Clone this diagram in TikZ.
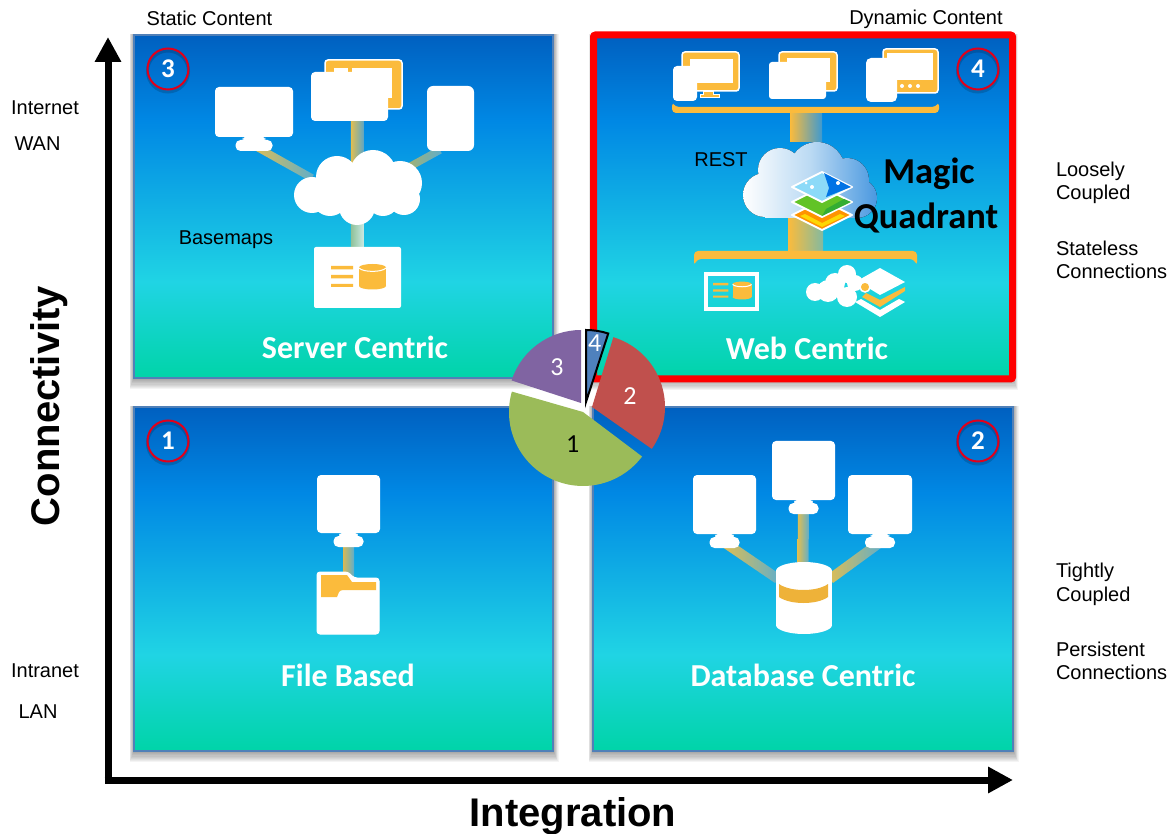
\documentclass[tikz,border=0pt]{standalone}
\usepackage{fontspec}
\setmainfont{Liberation Sans}
\newfontfamily\titlefont{Carlito}
\usetikzlibrary{arrows.meta,positioning,calc}

\definecolor{gold}{HTML}{FBBB3C}
\definecolor{panelA}{HTML}{0060C0}
\definecolor{panelB}{HTML}{0088E4}
\definecolor{panelC}{HTML}{20D4E4}
\definecolor{panelD}{HTML}{00D4A8}
\definecolor{panelline}{HTML}{5080B8}
\definecolor{ringred}{HTML}{E0001B}
\definecolor{framered}{HTML}{FF0000}
\definecolor{slicegreen}{HTML}{9BBB59}
\definecolor{slicered}{HTML}{C0504D}
\definecolor{slicepurple}{HTML}{8064A2}
\definecolor{sliceblue}{HTML}{4F81BD}
\definecolor{barwarm}{HTML}{E2BE50}
\definecolor{barcool}{HTML}{5FAECB}
\definecolor{barsage}{HTML}{8FC098}
\definecolor{barpale}{HTML}{C8E8E0}
\definecolor{barblue}{HTML}{3E9AD0}
\definecolor{cloudmid}{HTML}{BBDAF3}
\definecolor{cloudblue}{HTML}{4A98E0}

\pgfdeclareverticalshading{panelfade}{100bp}{
    color(0bp)=(panelD); color(25bp)=(panelD); color(39bp)=(panelC);
    color(62.5bp)=(panelB); color(75bp)=(panelA); color(100bp)=(panelA)
}

\pgfdeclarelayer{hazes}
\pgfdeclarelayer{panels}
\pgfdeclarelayer{bars}
\pgfsetlayers{hazes,panels,bars,main}

% soft shadow round a panel
\newcommand{\hazefor}[1]{
    \begin{pgfonlayer}{hazes}
    \foreach \r in {1,...,10} {
        \fill[black, opacity=0.042] ([shift={(-\r*0.45,-1)}]#1.north west)
            rectangle ([shift={(\r*0.55,\r*1.1)}]#1.south east);
    }
    \end{pgfonlayer}
}
% stand under a screen node
\newcommand{\standfor}[2]{
    \node (#1_neck) [white_pad, size={#2*0.62}{5}, below=-0.5pt of #1] {};
    \node (#1_base) [white_pad, rounded corners=5pt, size={#2}{11}, below=-1.5pt of #1_neck] {};
}
% shaded bar between two named points
\newcommand{\linkbar}[5]{
    \begin{pgfonlayer}{bars}
    \path let \p1=($(#2)-(#1)$), \n1={veclen(\x1,\y1)} in (#1.center) -- (#2.center)
        node (#1_#2) [midway, sloped, allow upside down, minimum width=\n1, minimum height=#3,
            left color=#4, right color=#5] {};
    \end{pgfonlayer}
}
% list and cylinder glyph
\newcommand{\dbglyph}[3]{
    \begin{scope}[shift={(#1,#2)}, scale=#3]
        \fill[gold] (0,0) rectangle (22,3.5) (0,9) rectangle (22,12.5) (0,18) rectangle (22,21);
        \fill[gold] (41.5,1.5) ellipse [x radius=13.5, y radius=3.5];
        \fill[gold] (28,1.5) rectangle (55,20);
        \fill[gold] (41.5,20) ellipse [x radius=13.5, y radius=3.5];
        \draw[white, line width=1pt] (28,2) .. controls (32,6.5) and (51,6.5) .. (55,2);
    \end{scope}
}
% one leaf of the map stack
\newcommand{\mapleaf}[2]{
    \filldraw[draw=white, line width=2pt, line join=round, fill=#2]
        (792,#1) -- (822,#1-15) -- (852,#1) -- (822,#1+15) -- cycle;
}

\begin{document}
\begin{tikzpicture}[x=1pt, y=-1pt,
    every node/.style={inner sep=0pt, outer sep=0pt},
    size/.style 2 args={minimum width=#1, minimum height=#2},
    quadrant/.style={rectangle, shade, shading=panelfade, draw=panelline, line width=2pt},
    badge/.style={
        circle, draw=ringred, line width=2pt, minimum size=41pt,
        preaction={draw=black, opacity=0.16, line width=3pt, transform canvas={yshift=-2.5pt}},
        text=white, font=\titlefont\bfseries\fontsize{27}{30}\selectfont
    },
    quadtitle/.style={text=white, font=\titlefont\bfseries\fontsize{32}{34}\selectfont},
    magictitle/.style={font=\titlefont\bfseries\fontsize{36.5}{40}\selectfont},
    sidelabel/.style={font=\fontsize{20}{23.5}\selectfont, align=left},
    axistitle/.style={font=\bfseries\fontsize{40}{44}\selectfont},
    white_pad/.style={rectangle, fill=white, rounded corners=4pt},
    gold_pad/.style={rectangle, fill=gold, draw=white, line width=1.5pt, rounded corners=3pt},
    axisline/.style={line width=7pt, -{Triangle[length=25pt, width=25pt]}},
    pienumber/.style={font=\titlefont\fontsize{26}{28}\selectfont}
]
    \useasboundingbox (0,0) rectangle (1171,834);

    \begin{pgfonlayer}{panels}
        \node (panel_server) [quadrant, size={419}{343}] at (343.5,206.5) {};
        \node (panel_file) [quadrant, size={419}{344}] at (343.5,579) {};
        \node (panel_database) [quadrant, size={420}{344}] at (803,579) {};
        \node (panel_web) [quadrant, draw=framered, line width=7pt, rounded corners=2pt,
            size={419}{344}] at (803,207) {};
    \end{pgfonlayer}
    \hazefor{panel_server}
    \hazefor{panel_file}
    \hazefor{panel_database}
    \hazefor{panel_web}

    % axes
    \coordinate (axis_corner) at (108,780);
    \coordinate (axis_top) at (108,37);
    \coordinate (axis_right) at (1013,780);
    \draw[axisline] ([yshift=-3.5pt]axis_corner) -- (axis_top);
    \draw[axisline] ([xshift=-3.5pt]axis_corner) -- (axis_right);
    \node (connectivity) [axistitle, rotate=90] at (49,406) {Connectivity};
    \node (integration) [axistitle] at (573,816) {Integration};

    % labels round the quadrants
    \node (static_content) [sidelabel] at (209.5,18) {Static Content};
    \node (dynamic_content) [sidelabel] at (926,19) {Dynamic Content};
    \node (internet) [sidelabel] at (45,108) {Internet};
    \node (wan) [sidelabel] at (37.5,144) {WAN};
    \node (intranet) [sidelabel] at (45,671) {Intranet};
    \node (lan) [sidelabel] at (38,712) {LAN};
    \node (loosely) [sidelabel, anchor=west] at (1056,183) {Loosely\\Coupled};
    \node (stateless) [sidelabel, anchor=west] at (1056,260) {Stateless\\Connections};
    \node (tightly) [sidelabel, anchor=west] at (1056,584.5) {Tightly\\Coupled};
    \node (persistent) [sidelabel, anchor=west] at (1056,661) {Persistent\\Connections};

    \node (badge_server) [badge] at (168,69) {3};
    \node (badge_web) [badge] at (978,69) {4};
    \node (badge_file) [badge] at (168,441) {1};
    \node (badge_database) [badge] at (978,441) {2};

    \node (title_server) [quadtitle] at (355,347) {Server Centric};
    \node (title_web) [quadtitle] at (807,348) {Web Centric};
    \node (title_file) [quadtitle] at (348,675) {File Based};
    \node (title_database) [quadtitle] at (803,675) {Database Centric};

    % server centric
    \node (s_desktop) [white_pad, size={78}{50}] at (254,112) {};
    \standfor{s_desktop}{37}
    \node (s_back) [gold_pad, size={77}{49}] at (363.5,84.5) {};
    \node (s_inner) [white_pad, rounded corners=0pt, size={40}{30}] at (372,83) {};
    \node (s_tab) [white_pad, rounded corners=0pt, size={14}{6}] at (341,71) {};
    \node (s_tablet) [white_pad, size={77}{49}] at (349.5,96.5) {};
    \node (s_phone) [white_pad, rounded corners=6pt, size={47}{65}] at (450.5,118.5) {};
    \coordinate (s_left) at (312,178);
    \coordinate (s_right) at (400,172);
    \coordinate (s_phone_port) at (440,150);
    \coordinate (s_tablet_port) at (357,121);
    \coordinate (s_hub_top) at (357,165);
    \coordinate (s_hub_low) at (357,220);
    \coordinate (s_box_port) at (357,254);
    \fill[white] (337,177) circle [radius=21] (373,173) circle [radius=23]
        (400,183) circle [radius=22] (404,199) circle [radius=16]
        (383,200) circle [radius=16] (357,207) circle [radius=18]
        (330,198) circle [radius=18] (312,195) circle [radius=18];
    \fill[white] (320,178) rectangle (400,205);
    \linkbar{s_desktop_base}{s_left}{7.5}{barwarm}{barcool}
    \linkbar{s_tablet_port}{s_hub_top}{12.5}{barwarm}{barcool!85!gray}
    \linkbar{s_phone_port}{s_right}{7.5}{barwarm!80!teal}{barcool}
    \linkbar{s_hub_low}{s_box_port}{12.5}{barsage}{barpale}
    \node (s_box) [white_pad, rounded corners=2pt, size={87}{61}] at (357.5,277.5) {};
    \dbglyph{331}{266}{1}
    \node (basemaps) [sidelabel] at (226,240) {Basemaps};

    % web centric
    \node (w_desktop) [gold_pad, size={57}{39}] at (710.5,71.5) {};
    \node (w_desktop_inner) [white_pad, rounded corners=0pt, size={43}{24}] at (711.5,71) {};
    \filldraw[gold, draw=white, line width=1pt] (703,92) -- (713,92) -- (713,95) -- (719,95)
        -- (719,98) -- (700,98) -- (700,95) -- (703,95) -- cycle;
    \node (w_desktop_phone) [white_pad, size={24}{35}] at (685,83.5) {};
    \node (w_middle) [gold_pad, size={58}{39}] at (808,71.5) {};
    \node (w_middle_inner) [white_pad, rounded corners=0pt, size={43}{24}] at (808.5,70) {};
    \node (w_middle_front) [white_pad, rounded corners=3pt, size={57}{37}] at (797.5,80.5) {};
    \node (w_right) [gold_pad, size={55}{44}] at (910.5,71) {};
    \node (w_right_inner) [white_pad, rounded corners=0pt, size={46}{27}] at (910,66.5) {};
    \fill[white] (902,86) circle [radius=2] (910,86) circle [radius=2] (918,86) circle [radius=2];
    \node (w_right_phone) [white_pad, rounded corners=5pt, size={31}{44}] at (881.5,80) {};
    \fill[gold, rounded corners=4pt] (672,102) -- (672,113) -- (939,113) -- (939,102)
        -- (936,107) -- (675,107) -- cycle;
    \fill[gold, rounded corners=4pt] (694,266) -- (694,251) -- (917,251) -- (917,266)
        -- (914,259) -- (697,259) -- cycle;
    \coordinate (w_top) at (806,113);
    \coordinate (w_cloud_top) at (806,142);
    \coordinate (w_cloud_low) at (805.5,218);
    \coordinate (w_low) at (805.5,251);
    \linkbar{w_top}{w_cloud_top}{32}{gold}{barblue}
    \linkbar{w_low}{w_cloud_low}{35}{gold}{barsage!85!barblue}
    \fill[left color=white, right color=cloudblue, middle color=cloudmid]
        (817,170) circle [radius=28] (780,170) circle [radius=22]
        (765,195) circle [radius=22] (847,180) circle [radius=22]
        (857,198) circle [radius=20] (765,218) rectangle (857,190) (780,195) rectangle (847,165);
    \mapleaf{215}{orange!85!yellow}
    \fill[yellow!75!orange] (805,214) -- (822,223) -- (840,214) -- (845,216) -- (822,227) -- (800,216) -- cycle;
    \mapleaf{202}{green!45!olive!85!white}
    \fill[green!60!black!80] (826,209) -- (844,199) -- (851,202) -- (822,216) -- cycle;
    \mapleaf{187}{cyan!45!white}
    \fill[blue!50!cyan!90!black] (824,173) -- (829,188) -- (826,197) -- (851,187) -- cycle;
    \fill[white] (812,187) circle [radius=2] (806,183) circle [radius=1.5] (838,183) circle [radius=2];
    \node (rest) [sidelabel] at (721,159.5) {REST};
    \node (magic) [magictitle] at (929,174) {Magic};
    \node (quadrant_word) [magictitle] at (926,218) {Quadrant};

    \node (w_map_box) [draw=white, line width=4pt, size={51}{35}] at (731.5,291.5) {};
    \dbglyph{713}{283}{0.7}
    \fill[white] (847,274) circle [radius=9] (835,283) circle [radius=10] (815,292) circle [radius=9]
        (828,291) circle [radius=11] (847,297) circle [radius=10] (855,283) circle [radius=8];
    \fill[white] (880,268) -- (905,282) -- (880,295) -- (857,281) -- cycle;
    \fill[gold] (862,297) -- (880,307) -- (905,291) -- (905,287) -- (880,300) -- (866,293) -- cycle;
    \fill[white] (855,302) -- (861,299) -- (880,310) -- (899,299) -- (905,302) -- (880,317) -- cycle;
    \filldraw[gold, draw=white, line width=1.5pt] (865,287) circle [radius=5];

    % file based
    \node (f_screen) [white_pad, size={63}{58}] at (348.5,504) {};
    \standfor{f_screen}{30}
    \coordinate (f_folder_port) at (348.5,578);
    \linkbar{f_screen_base}{f_folder_port}{11}{barwarm!90!gray}{barcool}
    \filldraw[white, draw=white, line width=1pt, rounded corners=3pt] (317,572) -- (348,572) -- (354,578)
        -- (379,578) -- (379,634) -- (317,634) -- cycle;
    \fill[gold] (321,575) -- (347,575) -- (352,582) -- (376,582) -- (376,590) -- (343,590)
        .. controls (339,590) and (338,594) .. (337,597) -- (321,597) -- cycle;

    % database centric
    \node (d_left) [white_pad, size={63}{59}] at (724.5,504.5) {};
    \standfor{d_left}{30}
    \node (d_middle) [white_pad, size={63}{59}] at (803.5,470.5) {};
    \standfor{d_middle}{30}
    \node (d_right) [white_pad, size={64}{59}] at (880,504.5) {};
    \standfor{d_right}{30}
    \fill[white] (804,571) ellipse [x radius=28, y radius=9];
    \fill[white] (776,571) rectangle (832,625);
    \fill[white] (804,625) ellipse [x radius=28, y radius=9];
    \coordinate (d_port_left) at (778,579);
    \coordinate (d_port_middle) at (803,568);
    \coordinate (d_port_right) at (830,579);
    \linkbar{d_left_base}{d_port_left}{10}{barwarm}{barcool}
    \linkbar{d_middle_base}{d_port_middle}{11}{barwarm}{barcool}
    \linkbar{d_right_base}{d_port_right}{10}{barwarm}{barcool}
    \fill[gold!95!black] (779,584) .. controls (790,592) and (817,592) .. (828,584) -- (828,597)
        .. controls (817,605) and (790,605) .. (779,597) -- cycle;

    % pie
    \coordinate (pie_green) at (583,412);
    \coordinate (pie_purple) at (581,403);
    \coordinate (pie_red) at (592,407);
    \coordinate (pie_blue) at (586,402);
    \fill[slicegreen] (pie_green) -- +(-164:74) arc [start angle=-164, end angle=-323, radius=74] -- cycle;
    \fill[slicepurple] (pie_purple) -- +(-90:73) arc [start angle=-90, end angle=-162, radius=73] -- cycle;
    \fill[slicered] (pie_red) -- +(-73:73) arc [start angle=-73, end angle=35, radius=73] -- cycle;
    \filldraw[fill=sliceblue, draw=black, line width=2pt] (pie_blue) -- +(-90:72)
        arc [start angle=-90, end angle=-72, radius=72] -- cycle;
    \node (share_1) [pienumber] at (572.7,444) {1};
    \node (share_2) [pienumber, text=white] at (630,396) {2};
    \node (share_3) [pienumber, text=white] at (557,367) {3};
    \node (share_4) [pienumber, text=white] at (594.7,343) {4};
\end{tikzpicture}
\end{document}
